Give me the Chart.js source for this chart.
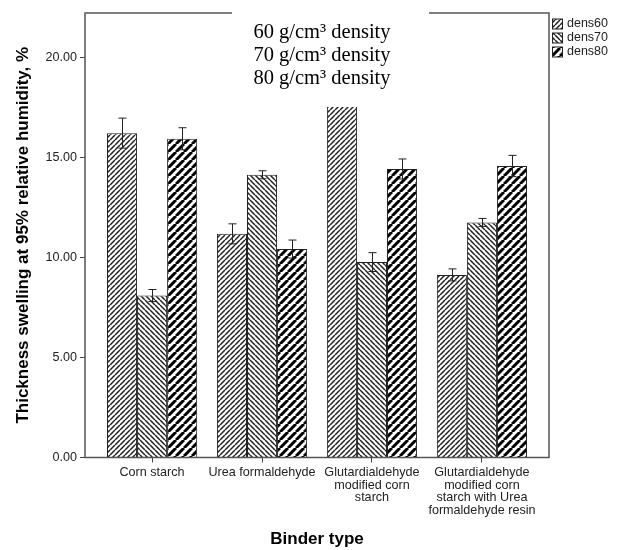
<!DOCTYPE html>
<html>
<head>
<meta charset="utf-8">
<script src="https://cdn.jsdelivr.net/npm/chart.js@4.4.0/dist/chart.umd.min.js"></script>
<style>
  html, body { margin: 0; padding: 0; background: #fff; }
</style>
</head>
<body>
<canvas id="chart" width="618" height="550"></canvas>
<script>
// data
var categories = [
  ["Corn starch"],
  ["Urea formaldehyde"],
  ["Glutardialdehyde", "modified corn", "starch"],
  ["Glutardialdehyde", "modified corn", "starch with Urea", "formaldehyde resin"]
];
var seriesNames = ["dens60", "dens70", "dens80"];
var dens60 = [16.2, 11.17, 19.5, 9.12];
var dens70 = [8.09, 14.12, 9.76, 11.74];
var dens80 = [15.92, 10.41, 14.41, 14.56];
var err60 = [0.75, 0.5, 0.5, 0.3];
var err70 = [0.3, 0.2, 0.47, 0.2];
var err80 = [0.55, 0.45, 0.5, 0.53];
var yTicks = [0, 5, 10, 15, 20];
var noteLines = ["60 g/cm\u00b3 density", "70 g/cm\u00b3 density", "80 g/cm\u00b3 density"];
var xTitle = "Binder type";
var yTitle = "Thickness swelling at 95% relative humidity, %";

// hatch fills
function hatch(size, lw, color, forward) {
  var c = document.createElement("canvas");
  c.width = size; c.height = size;
  var g = c.getContext("2d");
  g.fillStyle = "#fff";
  g.fillRect(0, 0, size, size);
  g.strokeStyle = color;
  g.lineWidth = lw;
  g.beginPath();
  for (var k = -1; k <= 1; k++) {
    if (forward) {
      g.moveTo(k * size, size); g.lineTo(k * size + size, 0);
    } else {
      g.moveTo(k * size, 0); g.lineTo(k * size + size, size);
    }
  }
  g.stroke();
  return g.createPattern(c, "repeat");
}

var ctx = document.getElementById("chart").getContext("2d");
var fills = [hatch(5, 1.5, "#222", true), hatch(5, 1.5, "#222", false), hatch(8, 3, "#000", true)];

function points(arr) {
  return arr.map(function(v, i) { return {x: i, y: v}; });
}

var seriesData = [dens60, dens70, dens80];
var seriesErr = [err60, err70, err80];

var datasets = seriesNames.map(function(name, i) {
  return {
    label: name,
    data: points(seriesData[i]),
    errors: seriesErr[i],
    backgroundColor: fills[i],
    borderColor: "#222",
    borderWidth: 1,
    categoryPercentage: 0.82,
    barPercentage: 1
  };
});

var extras = {
  id: "extras",
  afterDraw: function(chart) {
    var c = chart.ctx;
    var a = chart.chartArea;
    var ys = chart.scales.y;

    // error bars
    c.save();
    c.strokeStyle = "#222";
    c.lineWidth = 1;
    chart.data.datasets.forEach(function(ds, di) {
      var meta = chart.getDatasetMeta(di);
      meta.data.forEach(function(bar, i) {
        var v = ds.data[i].y, e = ds.errors[i];
        var x = Math.round(bar.x) + 0.5;
        var t = ys.getPixelForValue(v + e), b = ys.getPixelForValue(v - e);
        c.beginPath();
        c.moveTo(x, t); c.lineTo(x, b);
        c.moveTo(x - 4, t); c.lineTo(x + 4, t);
        c.moveTo(x - 4, b); c.lineTo(x + 4, b);
        c.stroke();
      });
    });

    // frame
    c.strokeStyle = "#555";
    c.lineWidth = 1.5;
    c.strokeRect(a.left, a.top, a.right - a.left, a.bottom - a.top);

    // pasted density note with white background
    c.fillStyle = "#fff";
    c.fillRect(232, 0, 197, 107);
    c.fillStyle = "#000";
    c.font = '20.5px "Liberation Serif", "Times New Roman", serif';
    c.textAlign = "center";
    c.textBaseline = "middle";
    noteLines.forEach(function(t, i) {
      c.fillText(t, 322, 33 + i * 23);
    });

    // legend
    c.font = '12.5px "Liberation Sans", Arial, sans-serif';
    c.textAlign = "left";
    chart.data.datasets.forEach(function(ds, i) {
      var cy = 24 + i * 14;
      c.fillStyle = ds.backgroundColor;
      c.fillRect(552.5, cy - 5, 10, 10);
      c.strokeStyle = "#222";
      c.lineWidth = 1;
      c.strokeRect(552.5, cy - 5, 10, 10);
      c.fillStyle = "#222";
      c.fillText(ds.label, 567, cy);
    });
    c.restore();
  }
};

var tickFont = {family: '"Liberation Sans", Arial, sans-serif', size: 12.6, lineHeight: 1.0};
var titleFont = {family: '"Liberation Sans", Arial, sans-serif', size: 17, weight: "bold"};

new Chart(ctx, {
  type: "bar",
  data: {datasets: datasets},
  options: {
    responsive: false,
    animation: false,
    layout: {padding: {top: 13, right: 69, left: 0, bottom: 0}},
    plugins: {legend: {display: false}, tooltip: {enabled: false}},
    scales: {
      x: {
        type: "linear",
        min: -0.61,
        max: 3.61,
        offset: false,
        afterBuildTicks: function(s) {
          s.ticks = categories.map(function(c, i) { return {value: i}; });
        },
        afterFit: function(s) { s.height = 92.5; },
        grid: {offset: false, drawOnChartArea: false, drawTicks: true, tickLength: 5, color: "#444"},
        border: {display: false},
        ticks: {
          autoSkip: false,
          maxRotation: 0,
          padding: 4,
          color: "#222",
          font: tickFont,
          callback: function(v) { return categories[v]; }
        },
        title: {display: true, text: xTitle, color: "#000", font: titleFont, padding: {top: 4, bottom: 0}}
      },
      y: {
        min: 0,
        max: 22.2,
        afterBuildTicks: function(s) {
          s.ticks = yTicks.map(function(v) { return {value: v}; });
        },
        afterFit: function(s) { s.width = 85; },
        grid: {drawOnChartArea: false, drawTicks: true, tickLength: 5, color: "#444"},
        border: {display: false},
        ticks: {
          padding: 3,
          color: "#222",
          font: {family: '"Liberation Sans", Arial, sans-serif', size: 12.6},
          callback: function(v) { return v.toFixed(2); }
        },
        title: {display: true, text: yTitle, color: "#000", font: titleFont, padding: {top: 13, bottom: 4}}
      }
    }
  },
  plugins: [extras]
});
</script>
</body>
</html>
